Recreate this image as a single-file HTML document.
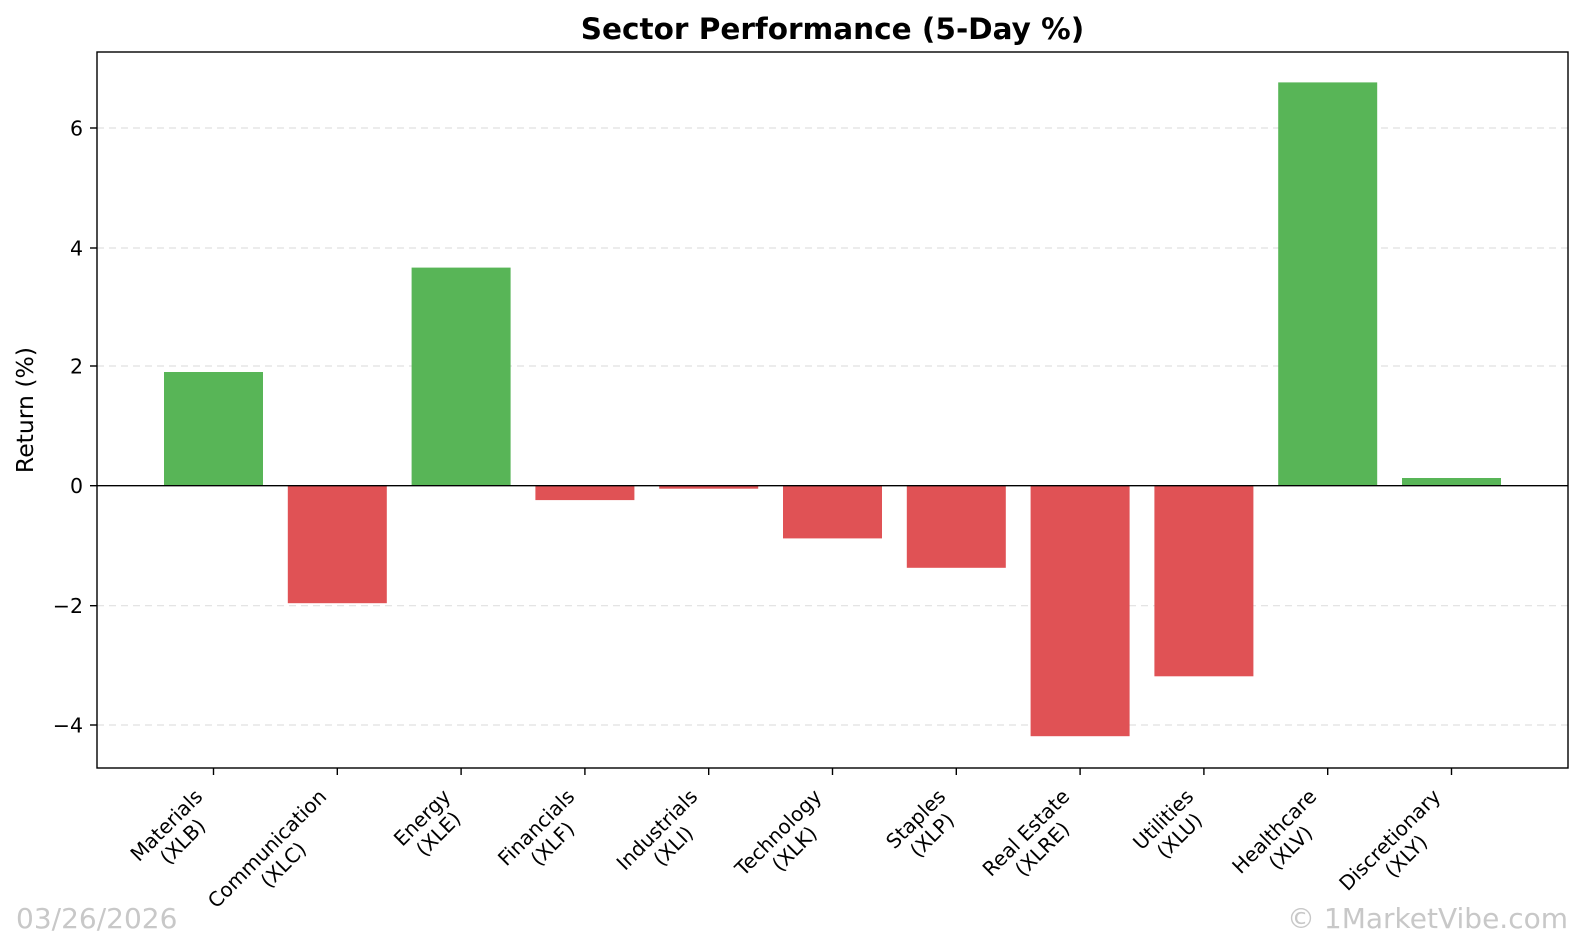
<!DOCTYPE html>
<html><head><meta charset="utf-8"><style>
body{margin:0;width:1584px;height:940px;background:#fff;position:relative;overflow:hidden;font-family:"DejaVu Sans","Liberation Sans",sans-serif}
.xl{position:absolute;font-size:20px;line-height:23px;text-align:center;white-space:nowrap;transform-origin:100% 0;transform:translateX(-100%) rotate(-45deg);color:#000}
.wm{position:absolute;font-size:28px;line-height:32px;color:#c8c8c8;top:903px}
</style></head><body>
<svg width="1584" height="940" style="position:absolute;left:0;top:0" font-family="DejaVu Sans, Liberation Sans, sans-serif">
<g stroke="#e0e0e0" stroke-dasharray="7,5" stroke-width="1.2">
<line x1="97" x2="1568" y1="128" y2="128"/><line x1="97" x2="1568" y1="248" y2="248"/><line x1="97" x2="1568" y1="366" y2="366"/><line x1="97" x2="1568" y1="605.7" y2="605.7"/><line x1="97" x2="1568" y1="725" y2="725"/>
</g>
<g fill="#58b557">
<rect x="164" y="372" width="99" height="113.7"/>
<rect x="411.6" y="267.6" width="99" height="218.1"/>
<rect x="1278.2" y="82.4" width="99" height="403.3"/>
<rect x="1402" y="478" width="99" height="7.7"/>
</g>
<g fill="#e05255">
<rect x="287.8" y="485.7" width="99" height="117.5"/>
<rect x="535.4" y="485.7" width="99" height="14.4"/>
<rect x="659.2" y="485.7" width="99" height="3"/>
<rect x="783" y="485.7" width="99" height="52.7"/>
<rect x="906.8" y="485.7" width="99" height="82.1"/>
<rect x="1030.6" y="485.7" width="99" height="250.5"/>
<rect x="1154.4" y="485.7" width="99" height="190.6"/>
</g>
<line x1="97" x2="1568" y1="485.7" y2="485.7" stroke="#000" stroke-width="1.4"/>
<rect x="97" y="52" width="1471" height="716" fill="none" stroke="#000" stroke-width="1.4"/>
<g stroke="#000" stroke-width="1.4">
<line x1="97" x2="90" y1="128" y2="128"/><line x1="97" x2="90" y1="248" y2="248"/><line x1="97" x2="90" y1="366" y2="366"/><line x1="97" x2="90" y1="485.7" y2="485.7"/><line x1="97" x2="90" y1="605.7" y2="605.7"/><line x1="97" x2="90" y1="725" y2="725"/>
<line x1="213.5" x2="213.5" y1="768" y2="775"/><line x1="337.3" x2="337.3" y1="768" y2="775"/><line x1="461.1" x2="461.1" y1="768" y2="775"/><line x1="584.9" x2="584.9" y1="768" y2="775"/><line x1="708.7" x2="708.7" y1="768" y2="775"/><line x1="832.5" x2="832.5" y1="768" y2="775"/><line x1="956.3" x2="956.3" y1="768" y2="775"/><line x1="1080.1" x2="1080.1" y1="768" y2="775"/><line x1="1203.9" x2="1203.9" y1="768" y2="775"/><line x1="1327.7" x2="1327.7" y1="768" y2="775"/><line x1="1451.5" x2="1451.5" y1="768" y2="775"/>
</g>
<g font-size="20.5" text-anchor="end" fill="#000">
<text x="83" y="135.5">6</text><text x="83" y="255.5">4</text><text x="83" y="373.5">2</text><text x="83" y="493.2">0</text><text x="83" y="613.2">−2</text><text x="83" y="732.5">−4</text>
</g>
<text transform="translate(33,410) rotate(-90)" font-size="23.5" text-anchor="middle">Return (%)</text>
<text x="832.5" y="39" font-size="29.5" font-weight="bold" text-anchor="middle">Sector Performance (5-Day %)</text>
</svg>
<div class="xl" style="left:191px;top:785px">Materials<br>(XLB)</div>
<div class="xl" style="left:315px;top:785px">Communication<br>(XLC)</div>
<div class="xl" style="left:439px;top:785px">Energy<br>(XLE)</div>
<div class="xl" style="left:563px;top:785px">Financials<br>(XLF)</div>
<div class="xl" style="left:686px;top:785px">Industrials<br>(XLI)</div>
<div class="xl" style="left:810px;top:785px">Technology<br>(XLK)</div>
<div class="xl" style="left:934px;top:785px">Staples<br>(XLP)</div>
<div class="xl" style="left:1058px;top:785px">Real Estate<br>(XLRE)</div>
<div class="xl" style="left:1182px;top:785px">Utilities<br>(XLU)</div>
<div class="xl" style="left:1305px;top:785px">Healthcare<br>(XLV)</div>
<div class="xl" style="left:1429px;top:785px">Discretionary<br>(XLY)</div>
<div class="wm" style="left:16px">03/26/2026</div>
<div class="wm" style="right:16px">© 1MarketVibe.com</div>
</body></html>
